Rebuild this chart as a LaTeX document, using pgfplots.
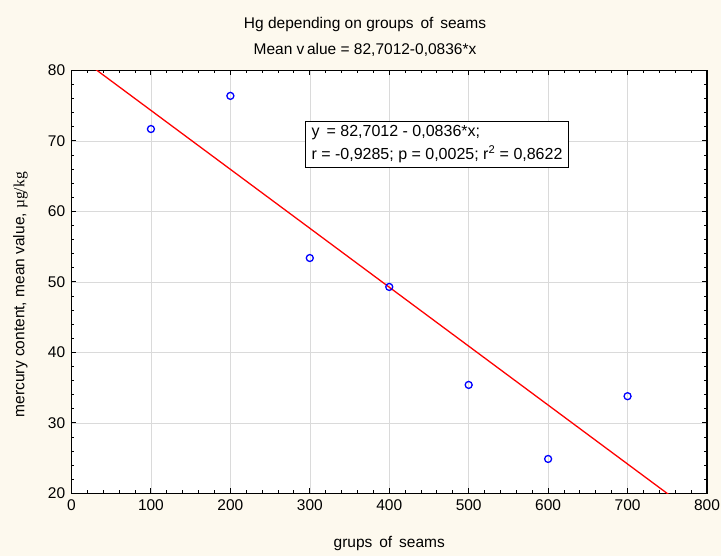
\documentclass[border=0pt]{standalone}
\usepackage{pgfplots}
\pgfplotsset{compat=1.18}
\usepackage{fontspec}
\setmainfont{Liberation Sans}
\newfontfamily\seriffont{Liberation Serif}
\definecolor{bgc}{HTML}{FDF9EE}
\definecolor{gridc}{HTML}{DADADA}
\begin{document}
\fontsize{15.5pt}{18pt}\selectfont
\begin{tikzpicture}[x=1pt,y=1pt]
\fill[bgc] (-71.5,-62.5) rectangle (649.5,493.5);
\begin{axis}[
  at={(0,0)}, anchor=south west,
  scale only axis, width=635.5pt, height=423pt,
  xmin=0, xmax=800, ymin=20, ymax=80,
  xtick={0,100,...,800}, ytick={20,30,...,80},
  minor x tick num=4, minor y tick num=4,
  tick align=inside, ticks=both,
  xtick pos=both, ytick pos=both,
  major tick length=5pt, minor tick length=3pt,
  every tick/.style={black, line width=1pt},
  axis line style={black, line width=1.3pt},
  grid=major, major grid style={gridc, line width=0.6pt},
  axis background/.style={fill=white},
  /pgf/number format/assume math mode=true,
  /pgf/number format/.cd, use comma, 1000 sep={},
  /pgfplots/.cd,
  tick label style={font=\fontsize{15.5pt}{18pt}\selectfont},
  xticklabel style={yshift=-1pt},
  yticklabel style={xshift=-1pt},
  xlabel={grups\ \,of\ \,seams},
  ylabel={mercury content,\ mean value,\ {\seriffont µg/kg}},
  xlabel style={at={(axis description cs:0.5,0)}, anchor=base, yshift=-54pt},
  ylabel style={at={(axis description cs:0,0.47)}, anchor=base, yshift=47pt},
  label style={font=\fontsize{15.5pt}{18pt}\selectfont},
]
\addplot[red, line width=1.3pt] coordinates {(0,82.7012) (800,15.8212)};
\addplot[only marks, mark=o, blue, mark size=3.5pt, mark options={line width=1.3pt}]
  coordinates {(100,71.7) (200,76.4) (300,53.4) (400,49.3) (500,35.4) (600,24.9) (700,33.8)};
\node[draw=black, line width=1pt, fill=white, anchor=north west, align=left,
      inner xsep=6pt, inner ysep=4pt, font=\fontsize{16pt}{23pt}\selectfont]
  at (axis cs:294,72.8) {y\,\ = 82,7012 - 0,0836*x;\\ r = -0,9285; p = 0,0025; r\textsuperscript{2} = 0,8622};
\end{axis}
\node[font=\fontsize{15.5pt}{18pt}\selectfont] at (293.5,468.5) {Hg depending on groups\ \,of\ \,seams};
\node[font=\fontsize{15.5pt}{18pt}\selectfont] at (293.5,443.5) {Mean v\,alue = 82,7012-0,0836*x};
\pgfresetboundingbox
\path (-71.5,-62.5) rectangle (649.5,493.5);
\end{tikzpicture}
\end{document}
